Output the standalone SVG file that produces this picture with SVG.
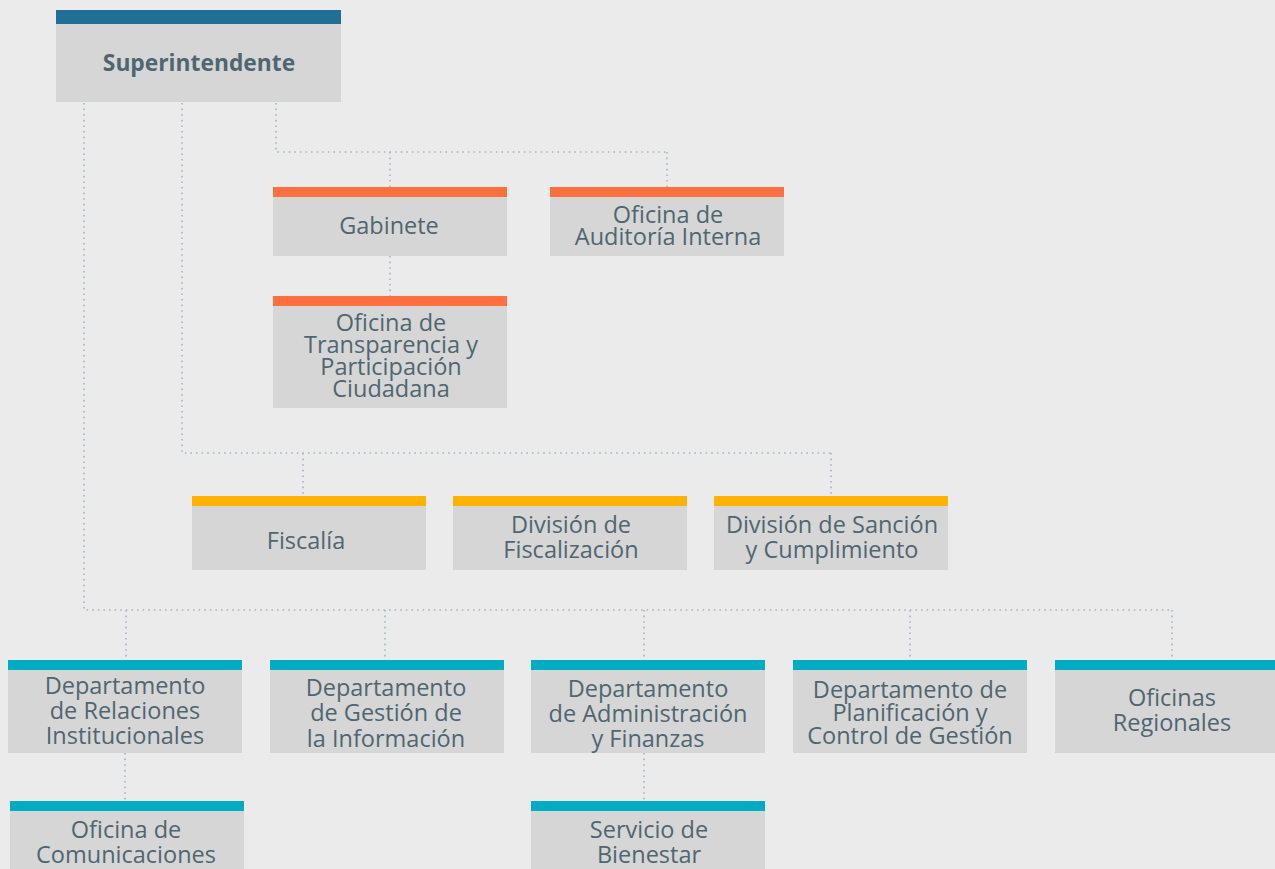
<svg xmlns="http://www.w3.org/2000/svg" width="1275" height="869" viewBox="0 0 1275 869">
<style>
.body{fill:#d6d6d6}
.b0{fill:#226e96}
.b1{fill:#ff6f40}
.b2{fill:#ffb300}
.b3{fill:#00acc2}
text{font-family:"Open Sans","DejaVu Sans",sans-serif;font-size:23.5px;font-weight:500;fill:#4f6671;text-anchor:middle}
.bold{font-weight:bold;font-size:22.8px}
.c path{fill:none;stroke:#a9b5bc;stroke-width:1.6;stroke-dasharray:1.6 4}
</style>
<rect width="1275" height="869" fill="#ebebeb"/>
<g class="c" id="connectors">
<path d="M84 103V610H1172"/>
<path d="M182 103V453H831"/>
<path d="M276 103V152H667"/>
<path d="M390 152V187"/>
<path d="M667 152V187"/>
<path d="M390 256V296"/>
<path d="M303 453V496"/>
<path d="M831 453V496"/>
<path d="M126 610V660"/>
<path d="M385 610V660"/>
<path d="M644 610V660"/>
<path d="M910 610V660"/>
<path d="M1172 610V660"/>
<path d="M125 753V801"/>
<path d="M644 753V801"/>
</g>
<g id="superintendente"><rect class="body" x="56" y="10" width="285" height="92"/><rect class="b0" x="56" y="10" width="285" height="14"/><text class="bold" x="199" y="71">Superintendente</text></g>
<g id="gabinete"><rect class="body" x="273" y="187" width="234" height="69"/><rect class="b1" x="273" y="187" width="234" height="10"/><text x="389" y="234">Gabinete</text></g>
<g id="auditoria"><rect class="body" x="550" y="187" width="234" height="69"/><rect class="b1" x="550" y="187" width="234" height="10"/><text x="668" y="223">Oficina de</text><text x="668" y="245">Auditoría Interna</text></g>
<g id="transparencia"><rect class="body" x="273" y="296" width="234" height="112"/><rect class="b1" x="273" y="296" width="234" height="10"/><text x="391" y="331">Oficina de</text><text x="391" y="353">Transparencia y</text><text x="391" y="375">Participación</text><text x="391" y="397">Ciudadana</text></g>
<g id="fiscalia"><rect class="body" x="192" y="496" width="234" height="74"/><rect class="b2" x="192" y="496" width="234" height="10"/><text x="306" y="549">Fiscalía</text></g>
<g id="div-fiscalizacion"><rect class="body" x="453" y="496" width="234" height="74"/><rect class="b2" x="453" y="496" width="234" height="10"/><text x="571" y="533">División de</text><text x="571" y="558">Fiscalización</text></g>
<g id="div-sancion"><rect class="body" x="714" y="496" width="234" height="74"/><rect class="b2" x="714" y="496" width="234" height="10"/><text x="832" y="533">División de Sanción</text><text x="832" y="558">y Cumplimiento</text></g>
<g id="dept-relaciones"><rect class="body" x="8" y="660" width="234" height="93"/><rect class="b3" x="8" y="660" width="234" height="10"/><text x="125" y="694">Departamento</text><text x="125" y="719">de Relaciones</text><text x="125" y="744">Institucionales</text></g>
<g id="dept-gestion-info"><rect class="body" x="270" y="660" width="234" height="93"/><rect class="b3" x="270" y="660" width="234" height="10"/><text x="386" y="696">Departamento</text><text x="386" y="721">de Gestión de</text><text x="386" y="747">la Información</text></g>
<g id="dept-administracion"><rect class="body" x="531" y="660" width="234" height="93"/><rect class="b3" x="531" y="660" width="234" height="10"/><text x="648" y="697">Departamento</text><text x="648" y="722">de Administración</text><text x="648" y="747">y Finanzas</text></g>
<g id="dept-planificacion"><rect class="body" x="793" y="660" width="234" height="93"/><rect class="b3" x="793" y="660" width="234" height="10"/><text x="910" y="698">Departamento de</text><text x="910" y="721">Planificación y</text><text x="910" y="744">Control de Gestión</text></g>
<g id="oficinas-regionales"><rect class="body" x="1055" y="660" width="234" height="93"/><rect class="b3" x="1055" y="660" width="234" height="10"/><text x="1172" y="706">Oficinas</text><text x="1172" y="731">Regionales</text></g>
<g id="oficina-comunicaciones"><rect class="body" x="10" y="801" width="234" height="80"/><rect class="b3" x="10" y="801" width="234" height="10"/><text x="126" y="838">Oficina de</text><text x="126" y="863">Comunicaciones</text></g>
<g id="servicio-bienestar"><rect class="body" x="531" y="801" width="234" height="80"/><rect class="b3" x="531" y="801" width="234" height="10"/><text x="649" y="838">Servicio de</text><text x="649" y="863">Bienestar</text></g>
</svg>
